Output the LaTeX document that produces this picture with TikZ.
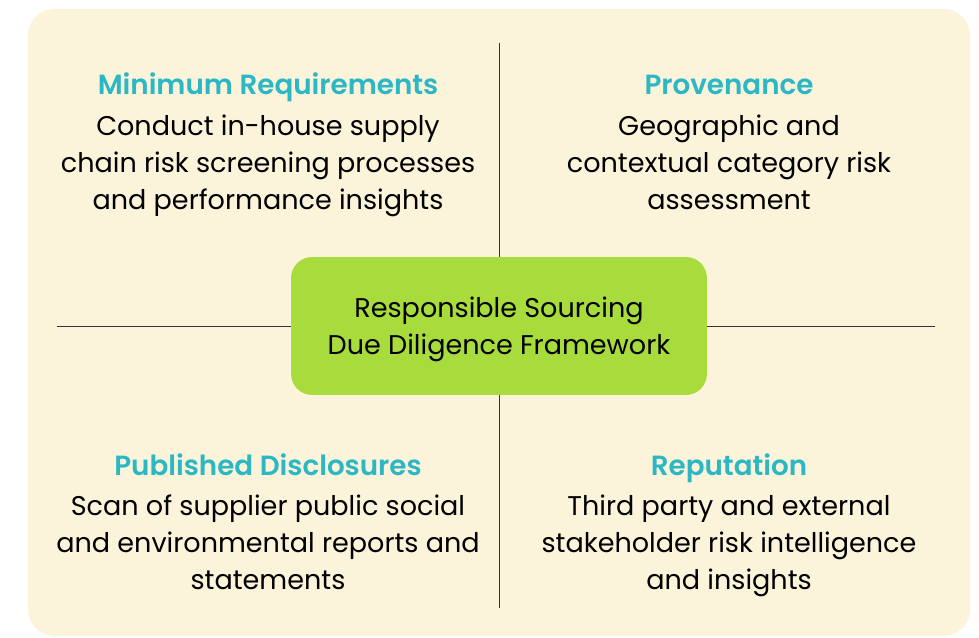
\documentclass[tikz,border=0pt]{standalone}
\usepackage{fontspec}
\setmainfont{Poppins}
\newfontfamily\headfont{Poppins SemiBold}
\definecolor{cream}{RGB}{252,244,218}
\definecolor{leaf}{RGB}{168,220,60}
\definecolor{teal}{RGB}{43,183,196}
\tikzset{
    heading/.style={text=teal, font=\fontsize{15.8}{20}\headfont, anchor=base},
    body/.style={align=center, font=\fontsize{15.4}{21}\selectfont, anchor=north},
}
\begin{document}
\begin{tikzpicture}[x=0.02cm, y=-0.02cm]

    \useasboundingbox (0,0) rectangle (979,638);

    % Background panel
    \fill[cream, rounded corners=15] (28,9) rectangle (970,636);

    % Axes
    \coordinate (top) at (499,43);
    \coordinate (bottom) at (499,608);
    \coordinate (left) at (57,326);
    \coordinate (right) at (935,326);
    \draw[black!80, line width=0.5pt] (top) -- (bottom);
    \draw[black!80, line width=0.5pt] (left) -- (right);

    % Centre box
    \node[fill=leaf, rounded corners=12, minimum width=8.32cm, minimum height=2.76cm] (frame) at (499,326) {};
    \node[body, anchor=center] (frametext) at (499,329)
        {Responsible Sourcing\\Due Diligence Framework};

    % Minimum Requirements
    \node[heading] (minreq) at (268,95) {Minimum Requirements};
    \node[body] (minreqtext) at (268,109)
        {Conduct in-house supply\\chain risk screening processes\\and performance insights};

    % Provenance
    \node[heading] (prov) at (729,95) {Provenance};
    \node[body] (provtext) at (729,109)
        {Geographic and\\contextual category risk\\assessment};

    % Published Disclosures
    \node[heading] (pubdis) at (268,475) {Published Disclosures};
    \node[body] (pubdistext) at (268,489)
        {Scan of supplier public social\\and environmental reports and\\statements};

    % Reputation
    \node[heading] (rep) at (729,475) {Reputation};
    \node[body] (reptext) at (729,489)
        {Third party and external\\stakeholder risk intelligence\\and insights};

\end{tikzpicture}
\end{document}
